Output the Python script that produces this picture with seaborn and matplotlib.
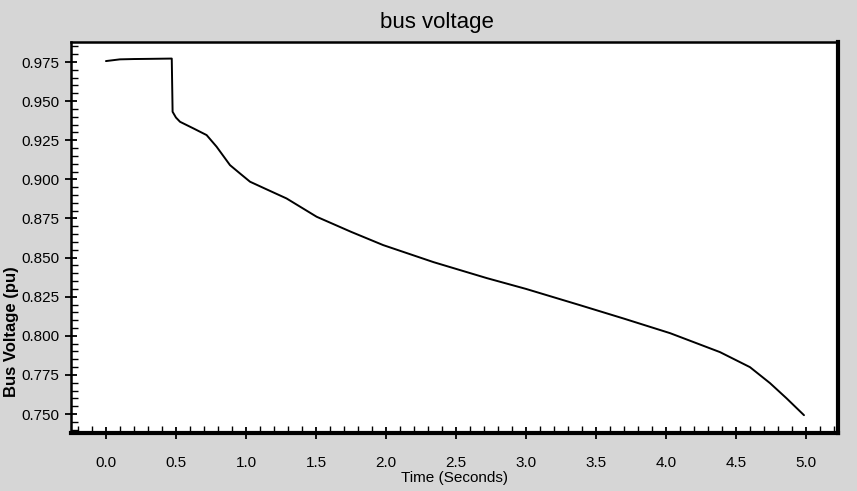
import matplotlib
matplotlib.use("Agg")
import matplotlib.pyplot as plt
import numpy as np
import pandas as pd
import seaborn as sns
from matplotlib.ticker import MultipleLocator, FormatStrFormatter

# values
TIME = [0.0, 0.1, 0.2, 0.3, 0.47, 0.476, 0.50, 0.529, 0.624, 0.719, 0.79,
        0.886, 0.957, 1.029, 1.148, 1.29, 1.505, 1.75, 1.98, 2.34, 2.72,
        3.0, 3.386, 3.7, 4.03, 4.386, 4.6, 4.743, 4.86, 4.986]
VOLTAGE = [0.9756, 0.9767, 0.9769, 0.9770, 0.9772, 0.9432, 0.9395, 0.9368,
           0.9326, 0.9283, 0.9209, 0.9091, 0.9038, 0.8985, 0.8936, 0.8878,
           0.8761, 0.8665, 0.8580, 0.8471, 0.8369, 0.8300, 0.8196, 0.8110,
           0.8017, 0.7896, 0.7800, 0.7698, 0.7602, 0.7493]

TITLE = "bus voltage"
XLABEL = "Time (Seconds)"
YLABEL = "Bus Voltage (pu)"

sns.set_theme(style="ticks")
plt.rcParams["font.family"] = ["Liberation Sans", "DejaVu Sans"]
plt.rcParams["text.color"] = "black"
plt.rcParams["axes.labelcolor"] = "black"

df = pd.DataFrame({"t": TIME, "v": VOLTAGE})

fig = plt.figure(figsize=(8.57, 4.91), dpi=100, facecolor="#d6d6d6")
ax = fig.add_axes([0.0828, 0.1181, 0.8952, 0.7964])
ax.set_facecolor("white")

sns.lineplot(data=df, x="t", y="v", ax=ax, color="black", linewidth=1.4,
             estimator=None, sort=False)

ax.set_xlim(-0.25, 5.23)
ax.set_ylim(0.7379, 0.9878)
ax.xaxis.set_major_locator(MultipleLocator(0.5))
ax.xaxis.set_minor_locator(MultipleLocator(0.1))
ax.yaxis.set_major_locator(MultipleLocator(0.025))
ax.yaxis.set_minor_locator(MultipleLocator(0.005))
ax.xaxis.set_major_formatter(FormatStrFormatter("%.1f"))
ax.yaxis.set_major_formatter(FormatStrFormatter("%.3f"))

ax.tick_params(which="major", direction="inout", length=9, width=1.3,
               labelsize=11, colors="black")
ax.tick_params(axis="x", which="major", pad=12)
ax.tick_params(axis="y", which="major", pad=4)
ax.tick_params(which="minor", direction="in", length=5, width=1.0,
               colors="black")

for side, lw in [("top", 1.8), ("left", 1.8), ("bottom", 3.0), ("right", 3.0)]:
    ax.spines[side].set_visible(True)
    ax.spines[side].set_linewidth(lw)
    ax.spines[side].set_color("black")

ax.set_xlabel(XLABEL, fontsize=11)
ax.set_ylabel(YLABEL, fontsize=12, fontweight="bold")
ax.xaxis.set_label_coords(0.5, -0.097)
ax.yaxis.set_label_coords(-0.068, 0.26)
fig.text(0.51, 0.955, TITLE, ha="center", va="center", fontsize=16)

fig.savefig("out.png", dpi=100, facecolor=fig.get_facecolor())
